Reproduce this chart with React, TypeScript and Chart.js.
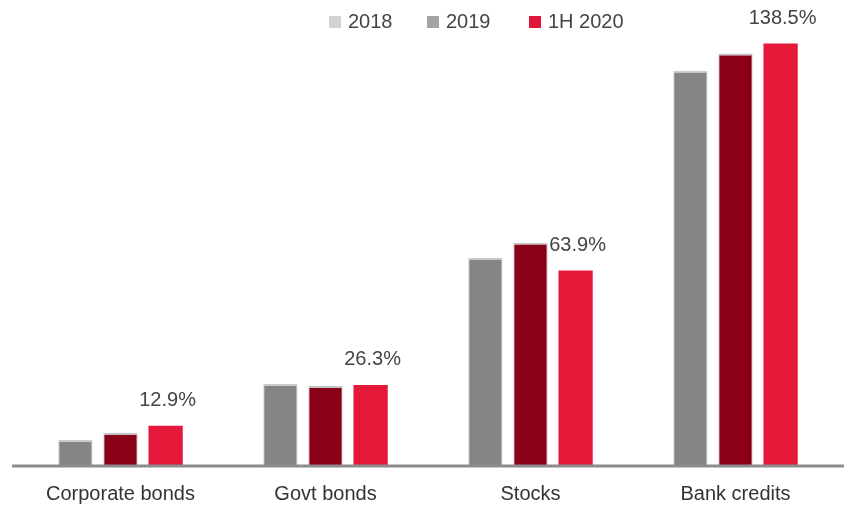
import React, { useEffect, useRef } from "react";
import { Chart, registerables } from "chart.js";

Chart.register(...registerables);

const categories = ["Corporate bonds", "Govt bonds", "Stocks", "Bank credits"];
const seriesNames = ["2018", "2019", "1H 2020"];
const values2018 = [8.2, 26.6, 68.1, 129.6];
const values2019 = [10.5, 26.0, 73.0, 135.2];
const values1H2020 = [12.9, 26.3, 63.9, 138.5];
const barColors = ["#858585", "#8b0019", "#e4193a"];
const legendColors = ["#d3d3d3", "#a3a3a3", "#e0173a"];

const FONT = "'Liberation Sans Narrow', 'Arial Narrow', 'Liberation Sans', Arial, sans-serif";

export default function App() {
  const ref = useRef<HTMLCanvasElement>(null);
  useEffect(() => {
    document.body.style.margin = "0";
    const canvas = ref.current!;
    const axisLine = {
      id: "axisLine",
      afterDatasetsDraw(chart: any) {
        const ctx = chart.ctx;
        const y = chart.scales.y.getPixelForValue(0) + 1;
        ctx.save();
        ctx.strokeStyle = "#8c8c8c";
        ctx.lineWidth = 3;
        ctx.beginPath();
        ctx.moveTo(12, y);
        ctx.lineTo(844, y);
        ctx.stroke();
        ctx.restore();
      },
    };
    const valueLabels = {
      id: "valueLabels",
      afterDatasetsDraw(chart: any) {
        const ctx = chart.ctx;
        const meta = chart.getDatasetMeta(2);
        ctx.save();
        ctx.font = `20px ${FONT}`;
        ctx.fillStyle = "#444444";
        ctx.textAlign = "center";
        ctx.textBaseline = "alphabetic";
        meta.data.forEach((bar: any, i: number) => {
          ctx.fillText(values1H2020[i].toFixed(1) + "%", bar.x + 2, bar.y - 20);
        });
        ctx.restore();
      },
    };
    const customLegend = {
      id: "customLegend",
      afterDraw(chart: any) {
        const ctx = chart.ctx;
        const xs = [329, 427, 529];
        ctx.save();
        ctx.font = `20px ${FONT}`;
        ctx.textBaseline = "middle";
        ctx.textAlign = "left";
        seriesNames.forEach((name, i) => {
          ctx.fillStyle = legendColors[i];
          ctx.fillRect(xs[i], 16, 12, 12);
          ctx.fillStyle = "#444444";
          ctx.fillText(name, xs[i] + 19, 22);
        });
        ctx.restore();
      },
    };
    const chart = new Chart(canvas, {
      type: "bar",
      data: {
        labels: categories,
        datasets: [
          { label: seriesNames[0], data: values2018, backgroundColor: barColors[0], borderColor: "#cdcdcd", borderWidth: { top: 2, left: 1, right: 1, bottom: 0 } },
          { label: seriesNames[1], data: values2019, backgroundColor: barColors[1], borderColor: "#c4c4c4", borderWidth: { top: 2, left: 1, right: 1, bottom: 0 } },
          { label: seriesNames[2], data: values1H2020, backgroundColor: barColors[2], borderWidth: 0 },
        ],
      },
      options: {
        responsive: false,
        animation: false,
        layout: { padding: { top: 39, left: 18, right: 12, bottom: 0 } },
        plugins: { legend: { display: false }, tooltip: { enabled: false } },
        datasets: { bar: { categoryPercentage: 0.66, barPercentage: 0.76 } },
        scales: {
          x: {
            grid: { display: false, drawTicks: false },
            border: { display: false },
            ticks: { color: "#333333", font: { size: 20, family: FONT }, padding: 17 },
            afterFit(scale: any) {
              scale.height = 49;
            },
          },
          y: { display: false, min: 0, max: 140 },
        },
      },
      plugins: [axisLine, valueLabels, customLegend],
    });
    return () => chart.destroy();
  }, []);
  return <canvas ref={ref} width={850} height={514} style={{ display: "block" }} />;
}
